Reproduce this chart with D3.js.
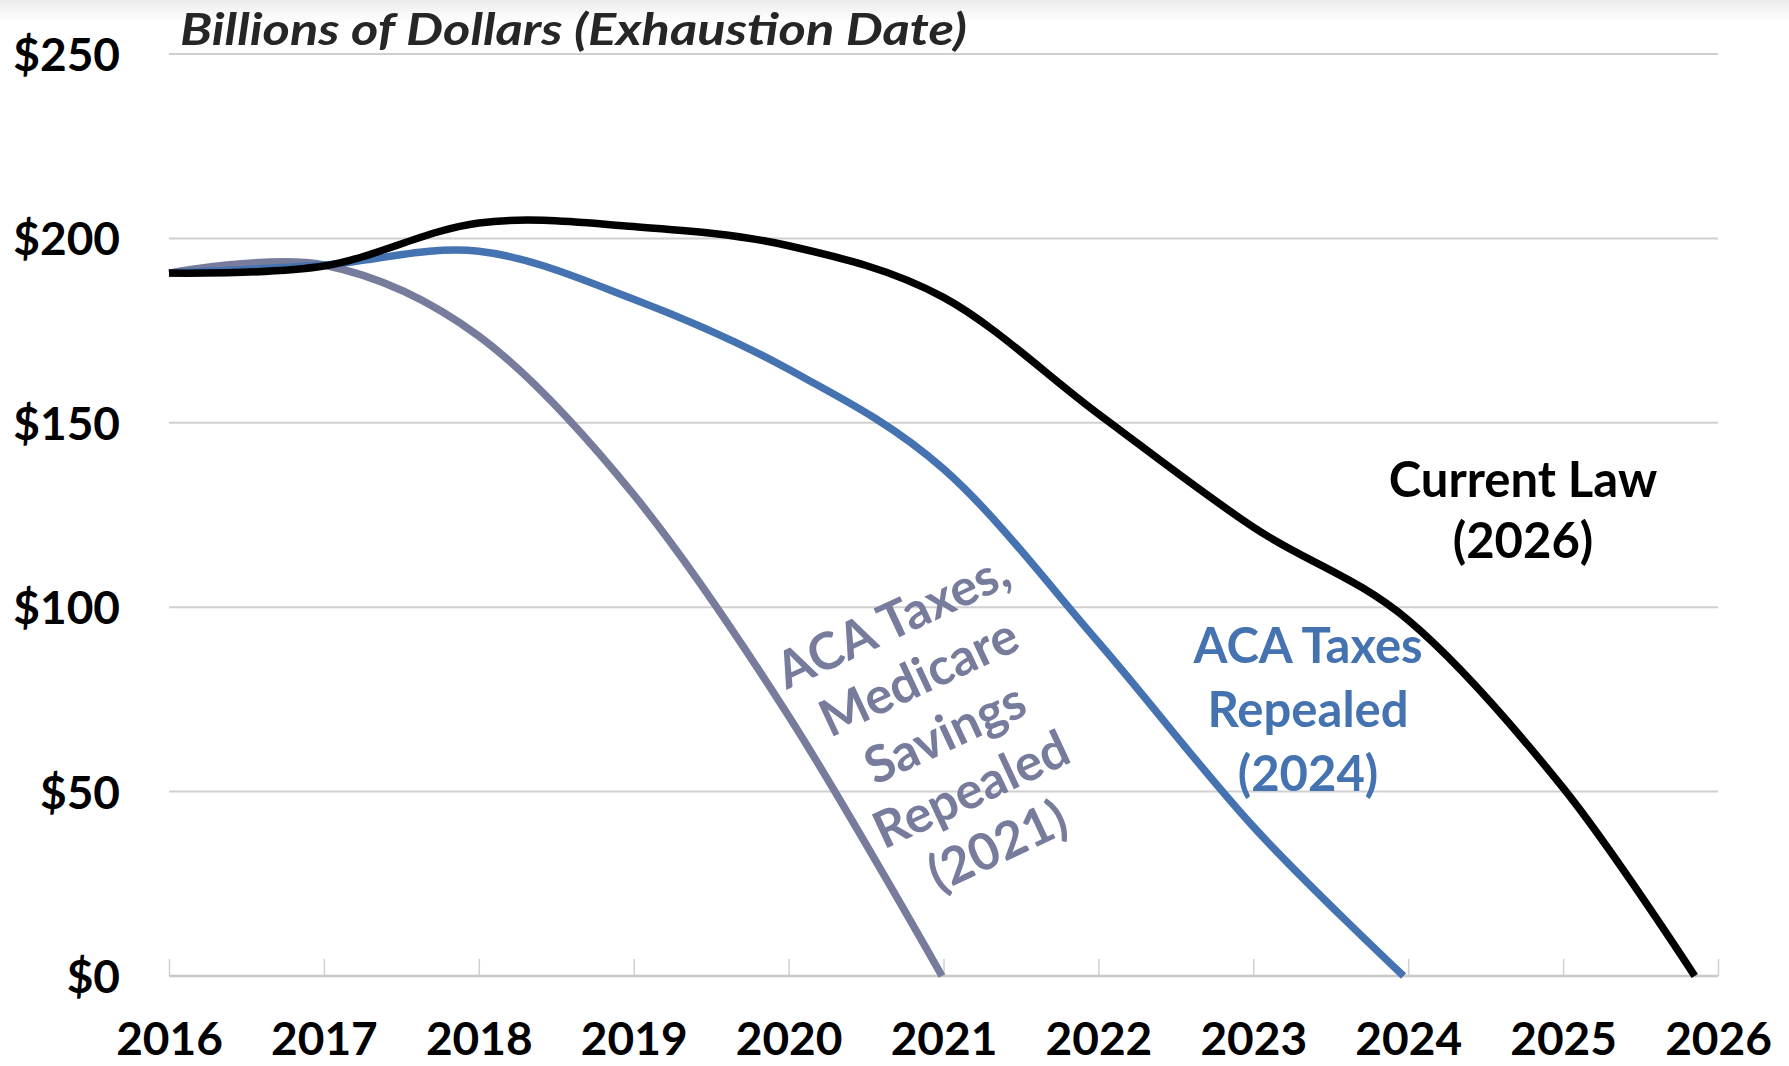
<!DOCTYPE html>
<html>
<head>
<meta charset="utf-8">
<script src="https://cdn.jsdelivr.net/npm/d3@7"></script>
<style>
  body { margin: 0; background: #fff; }
  svg { display: block; font-family: Lato, "Open Sans", sans-serif; }
</style>
</head>
<body>
<svg id="chart"></svg>
<script>
// trust fund balance, billions of dollars
var yearTicks = [2016, 2017, 2018, 2019, 2020, 2021, 2022, 2023, 2024, 2025, 2026]
var yTicks = [0, 50, 100, 150, 200, 250]

var currentLawYears = [2016, 2017, 2018, 2019, 2020, 2021, 2022, 2023, 2024, 2025, 2025.85]
var currentLawVals  = [190.6, 192.5, 204.2, 203.2, 198, 184, 152.4, 121.7, 96.5, 51, 0]

var acaYears = [2016, 2017, 2018, 2019, 2020, 2021, 2022, 2023, 2023.97]
var acaVals  = [190.6, 192.8, 196.5, 183.5, 164.5, 137.5, 90.5, 40.5, 0]

var acaMedYears = [2016, 2017, 2018, 2019, 2020, 2020.99]
var acaMedVals  = [190.6, 192.8, 173.5, 130.5, 70.5, 0]

var labelCurrent = ['Current Law', '(2026)']
var labelAca = ['ACA Taxes', 'Repealed', '(2024)']
var labelAcaMed = ['ACA Taxes,', 'Medicare', 'Savings', 'Repealed', '(2021)']

const width = 1789, height = 1066
const margin = {top: 54, right: 71, bottom: 90, left: 169}

const svg = d3.select('#chart')
    .attr('width', width)
    .attr('height', height)

// faint grey band at the very top
const grad = svg.append('defs').append('linearGradient')
    .attr('id', 'topfade').attr('x1', 0).attr('x2', 0).attr('y1', 0).attr('y2', 1)
grad.append('stop').attr('offset', '0%').attr('stop-color', '#ececec')
grad.append('stop').attr('offset', '100%').attr('stop-color', '#fff')
svg.append('rect').attr('width', width).attr('height', 22).attr('fill', 'url(#topfade)')

const x = d3.scaleLinear()
    .domain([2016, 2026])
    .range([margin.left, width - margin.right])

const y = d3.scaleLinear()
    .domain([0, 250])
    .range([height - margin.bottom, margin.top])

// gridlines
svg.append('g')
    .selectAll('line')
    .data(yTicks.filter(d => d > 0))
    .join('line')
    .attr('x1', x(2016)).attr('x2', x(2026))
    .attr('y1', d => y(d)).attr('y2', d => y(d))
    .attr('stroke', '#d0d0d0')
    .attr('stroke-width', 2)

// y axis labels
const yAxis = g => g
    .attr('transform', `translate(${margin.left - 49},0)`)
    .call(d3.axisLeft(y).tickValues(yTicks).tickSize(0).tickFormat(d => '$' + d))
    .call(g => g.select('.domain').remove())
    .call(g => g.selectAll('text')
        .attr('x', 0)
        .attr('dy', '0.36em')
        .attr('font-family', 'Lato, sans-serif')
        .attr('font-weight', 'bold')
        .attr('font-size', 46)
        .attr('fill', '#000'))

// x axis: inside ticks, baseline
const xAxis = g => g
    .attr('transform', `translate(0,${y(0)})`)
    .call(d3.axisBottom(x).tickValues(yearTicks).tickSize(-17).tickFormat(d3.format('d')).tickPadding(0))
    .call(g => g.select('.domain').remove())
    .call(g => g.selectAll('.tick line').attr('stroke', '#d0d0d0').attr('stroke-width', 1.5))
    .call(g => g.selectAll('text')
        .attr('y', 79)
        .attr('dy', null)
        .attr('font-family', 'Lato, sans-serif')
        .attr('font-weight', 'bold')
        .attr('font-size', 46)
        .attr('fill', '#000'))

svg.append('g').call(yAxis)
svg.append('g').call(xAxis)

svg.append('line')
    .attr('x1', x(2016)).attr('x2', x(2026))
    .attr('y1', y(0)).attr('y2', y(0))
    .attr('stroke', '#c8c8c8')
    .attr('stroke-width', 2.5)

// series, smoothed like the spreadsheet did
const line = d3.line()
    .x(d => x(d[0]))
    .y(d => y(d[1]))
    .curve(d3.curveCatmullRom.alpha(0))

const series = [
    {yrs: acaMedYears, vals: acaMedVals, color: '#777b9c'},
    {yrs: acaYears, vals: acaVals, color: '#4573b1'},
    {yrs: currentLawYears, vals: currentLawVals, color: '#000'}
]

svg.append('g')
    .selectAll('path')
    .data(series)
    .join('path')
    .attr('d', s => line(d3.zip(s.yrs, s.vals)))
    .attr('fill', 'none')
    .attr('stroke', s => s.color)
    .attr('stroke-width', 7.5)
    .attr('stroke-linejoin', 'round')

// title
svg.append('text')
    .attr('x', 180)
    .attr('y', 45)
    .attr('font-family', 'Lato, sans-serif')
    .attr('font-weight', 'bold')
    .attr('font-style', 'italic')
    .attr('font-size', 44)
    .attr('textLength', 787)
    .attr('lengthAdjust', 'spacingAndGlyphs')
    .attr('fill', '#262626')
    .text('Billions of Dollars (Exhaustion Date)')

// annotations
function block(lines, cx, cy, step, color, size, angle) {
    const g = svg.append('g')
        .attr('transform', `translate(${cx},${cy}) rotate(${angle || 0})`)
    g.selectAll('text')
        .data(lines)
        .join('text')
        .attr('x', 0)
        .attr('y', (d, i) => i * step)
        .attr('text-anchor', 'middle')
        .attr('font-family', 'Lato, sans-serif')
        .attr('font-weight', 'bold')
        .attr('font-size', size)
        .attr('fill', color)
        .text(d => d)
}

block(labelCurrent, 1523, 497, 61, '#000', 49)
block(labelAca, 1308, 663, 64, '#4573b1', 49)
block(labelAcaMed, 900, 637, 62, '#777b9c', 51, -25)
</script>
</body>
</html>
